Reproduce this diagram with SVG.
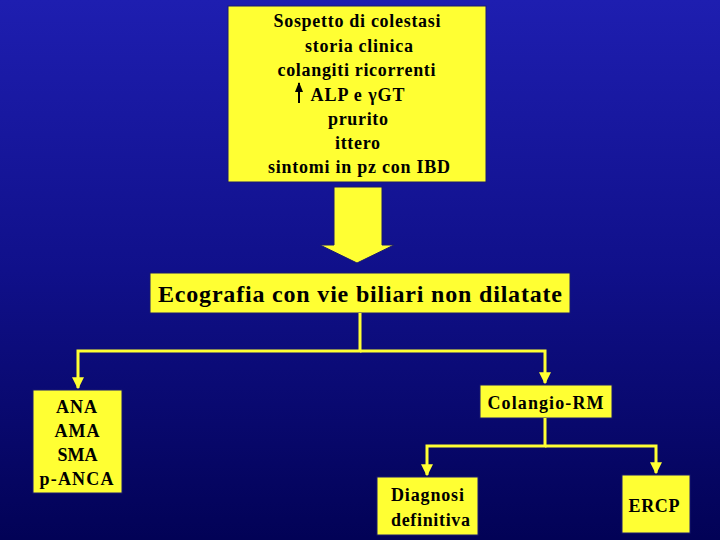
<svg xmlns="http://www.w3.org/2000/svg" width="720" height="540" viewBox="0 0 720 540">
<defs>
<linearGradient id="bg" x1="0" y1="0" x2="0" y2="1">
<stop offset="0" stop-color="#1e1eb0"/>
<stop offset="0.5" stop-color="#10108a"/>
<stop offset="1" stop-color="#020256"/>
</linearGradient>
<marker id="ah" viewBox="0 0 10 10" refX="9" refY="5" markerWidth="4" markerHeight="4" orient="auto" markerUnits="strokeWidth">
<path d="M0,0 L10,5 L0,10 z" fill="#ffff33"/>
</marker>
<marker id="bh" viewBox="0 0 10 10" refX="9" refY="5" markerWidth="5" markerHeight="5" orient="auto" markerUnits="strokeWidth">
<path d="M0,1 L10,5 L0,9 z" fill="#000"/>
</marker>
<style>
.box{fill:#ffff33;stroke:#1a1a70;stroke-width:1}
.t{font-family:"Liberation Serif","Times New Roman",serif;font-weight:bold;fill:#000;text-anchor:middle}
.c{fill:none;stroke:#ffff33;stroke-width:3}
</style>
</defs>
<rect width="720" height="540" fill="url(#bg)"/>

<g id="node-sospetto">
<rect class="box" x="228" y="6" width="258" height="176"/>
<text class="t" font-size="18" x="357" y="27" textLength="167" lengthAdjust="spacing">Sospetto di colestasi</text>
<text class="t" font-size="18" x="359" y="52" textLength="108" lengthAdjust="spacing">storia clinica</text>
<text class="t" font-size="18" x="356.5" y="76" textLength="158" lengthAdjust="spacing">colangiti ricorrenti</text>
<text class="t" font-size="18" x="357.5" y="101" textLength="94" lengthAdjust="spacing">ALP e γGT</text>
<text class="t" font-size="18" x="358" y="125" textLength="60" lengthAdjust="spacing">prurito</text>
<text class="t" font-size="18" x="357.5" y="149" textLength="45" lengthAdjust="spacing">ittero</text>
<text class="t" font-size="18" x="359" y="173" textLength="182" lengthAdjust="spacing">sintomi in pz con IBD</text>
<line x1="299" y1="103" x2="299" y2="83" stroke="#000" stroke-width="2" marker-end="url(#bh)"/>
</g>

<g id="node-ecografia">
<rect class="box" x="150" y="273" width="420" height="40"/>
<text class="t" font-size="24" x="360" y="302" textLength="404" lengthAdjust="spacing">Ecografia con vie biliari non dilatate</text>
</g>

<g id="node-anticorpi">
<rect class="box" x="33" y="390" width="89" height="103"/>
<text class="t" font-size="18" x="76.5" y="413" textLength="41" lengthAdjust="spacing">ANA</text>
<text class="t" font-size="18" x="77" y="437" textLength="45" lengthAdjust="spacing">AMA</text>
<text class="t" font-size="18" x="77.5" y="461" textLength="40" lengthAdjust="spacing">SMA</text>
<text class="t" font-size="18" x="76.5" y="485" textLength="74" lengthAdjust="spacing">p-ANCA</text>
</g>

<g id="node-colangio">
<rect class="box" x="480" y="385" width="132" height="33"/>
<text class="t" font-size="18" x="545.5" y="409" textLength="116" lengthAdjust="spacing">Colangio-RM</text>
</g>

<g id="node-diagnosi">
<rect class="box" x="377" y="477" width="101" height="58"/>
<text class="t" font-size="18" x="427.5" y="501" textLength="73" lengthAdjust="spacing">Diagnosi</text>
<text class="t" font-size="18" x="430.5" y="526" textLength="79" lengthAdjust="spacing">definitiva</text>
</g>

<g id="node-ercp">
<rect class="box" x="622" y="475" width="68" height="58"/>
<text class="t" font-size="18" x="654" y="512" textLength="51" lengthAdjust="spacing">ERCP</text>
</g>

<g id="connectors">
<path d="M334,187 H382 V245 H394 L357,263 L320,245 H334 Z" fill="#ffff33" stroke="#1a1a70" stroke-width="1"/>
<path class="c" d="M360,313 V351 H78 V388" marker-end="url(#ah)"/>
<path class="c" d="M360,351 H545 V383" marker-end="url(#ah)"/>
<path class="c" d="M545,418 V446 H427 V475" marker-end="url(#ah)"/>
<path class="c" d="M545,446 H656 V473" marker-end="url(#ah)"/>
</g>
</svg>
